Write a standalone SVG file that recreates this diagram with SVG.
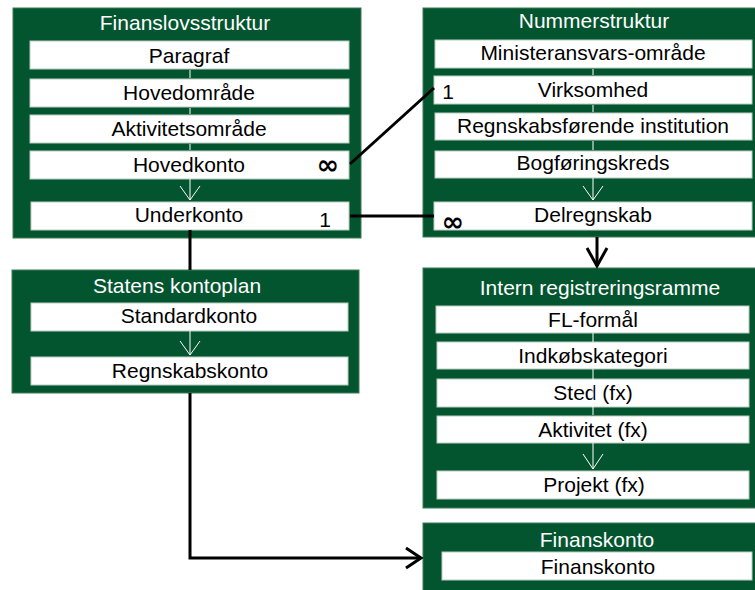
<svg xmlns="http://www.w3.org/2000/svg" width="755" height="590" viewBox="0 0 755 590">
  <style>
    .panel { fill: #03552f; stroke: #3f7a57; stroke-width: 1; }
    .cell { fill: #ffffff; stroke: #b9cdbf; stroke-width: 1; }
    .title { font-family: "Liberation Sans", Arial, sans-serif; font-size: 21px; fill: #ffffff; text-anchor: middle; }
    .label { font-family: "Liberation Sans", Arial, sans-serif; font-size: 21px; fill: #000000; text-anchor: middle; }
    .mult { font-family: "Liberation Sans", Arial, sans-serif; font-size: 21px; fill: #000000; text-anchor: middle; }
    .inf { font-family: "DejaVu Sans", "Liberation Sans", sans-serif; font-size: 27px; font-weight: bold; fill: #000000; text-anchor: middle; }
    .link { stroke: #ffffff; stroke-width: 1; fill: none; }
    .wire { stroke: #000000; stroke-width: 3; fill: none; }
  </style>

  <!-- Finanslovsstruktur -->
  <g id="finanslovsstruktur">
    <rect class="panel" x="13" y="8" width="348" height="230"/>
    <text class="title" x="185" y="30">Finanslovsstruktur</text>
    <rect class="cell" x="30" y="41" width="319" height="28"/>
    <text class="label" x="189" y="63">Paragraf</text>
    <rect class="cell" x="30" y="79" width="319" height="28"/>
    <text class="label" x="189" y="100">Hovedområde</text>
    <rect class="cell" x="30" y="115" width="319" height="28"/>
    <text class="label" x="189" y="136">Aktivitetsområde</text>
    <rect class="cell" x="30" y="151" width="319" height="28"/>
    <text class="label" x="189" y="172">Hovedkonto</text>
    <text class="inf" x="328" y="174">∞</text>
    <rect class="cell" x="31" y="202" width="318" height="28"/>
    <text class="label" x="189" y="222">Underkonto</text>
    <text class="mult" x="325" y="227">1</text>
    <path class="link" d="M190 70 V78 M190 108 V114 M190 144 V150 M190 179 V200 M180 186 L190 200 L200 186"/>
  </g>

  <!-- Nummerstruktur -->
  <g id="nummerstruktur">
    <rect class="panel" x="423" y="8" width="340" height="229"/>
    <text class="title" x="594" y="28">Nummerstruktur</text>
    <rect class="cell" x="435" y="40" width="317" height="28"/>
    <text class="label" x="593" y="60">Ministeransvars-område</text>
    <rect class="cell" x="434" y="76" width="318" height="28"/>
    <text class="label" x="593" y="97">Virksomhed</text>
    <text class="mult" x="448" y="99">1</text>
    <rect class="cell" x="435" y="113" width="317" height="27"/>
    <text class="label" x="593" y="133">Regnskabsførende institution</text>
    <rect class="cell" x="435" y="151" width="317" height="27"/>
    <text class="label" x="593" y="170">Bogføringskreds</text>
    <rect class="cell" x="434" y="202" width="318" height="28"/>
    <text class="label" x="593" y="222">Delregnskab</text>
    <text class="inf" x="453" y="231">∞</text>
    <path class="link" d="M593 69 V75 M593 105 V112 M593 141 V150 M593 178 V200 M583 186 L593 200 L603 186"/>
  </g>

  <!-- Statens kontoplan -->
  <g id="statens-kontoplan">
    <rect class="panel" x="12" y="270" width="347" height="123"/>
    <text class="title" x="177" y="293">Statens kontoplan</text>
    <rect class="cell" x="31" y="303" width="317" height="28"/>
    <text class="label" x="189" y="323">Standardkonto</text>
    <rect class="cell" x="31" y="357" width="317" height="28"/>
    <text class="label" x="190" y="378">Regnskabskonto</text>
    <path class="link" d="M190 331 V355 M180 341 L190 355 L200 341"/>
  </g>

  <!-- Intern registreringsramme -->
  <g id="intern-registreringsramme">
    <rect class="panel" x="423" y="268" width="340" height="240"/>
    <text class="title" x="600" y="295">Intern registreringsramme</text>
    <rect class="cell" x="436" y="306" width="313" height="27"/>
    <text class="label" x="593" y="327">FL-formål</text>
    <rect class="cell" x="437" y="342" width="312" height="27"/>
    <text class="label" x="593" y="363">Indkøbskategori</text>
    <rect class="cell" x="437" y="379" width="312" height="28"/>
    <text class="label" x="593" y="400">Sted (fx)</text>
    <rect class="cell" x="437" y="416" width="312" height="27"/>
    <text class="label" x="593" y="437">Aktivitet (fx)</text>
    <rect class="cell" x="437" y="471" width="312" height="28"/>
    <text class="label" x="594" y="492">Projekt (fx)</text>
    <path class="link" d="M593 333 V342 M593 369 V415 M593 443 V469 M583 454 L593 469 L603 454"/>
  </g>

  <!-- Finanskonto -->
  <g id="finanskonto">
    <rect class="panel" x="423" y="523" width="340" height="75"/>
    <text class="title" x="597" y="547">Finanskonto</text>
    <rect class="cell" x="442" y="552" width="310" height="28"/>
    <text class="label" x="598" y="574">Finanskonto</text>
  </g>

  <!-- Connectors -->
  <g id="connectors">
    <path class="wire" d="M350 164 L434 88"/>
    <path class="wire" d="M350 216 H434"/>
    <path class="wire" d="M597 237 V266"/>
    <path class="wire" d="M587 248 L597 266 L607 248"/>
    <path class="wire" d="M190 230 V270"/>
    <path class="wire" d="M190 393 V558 H421"/>
    <path class="wire" d="M406 548 L421 558 L406 568"/>
  </g>
</svg>
